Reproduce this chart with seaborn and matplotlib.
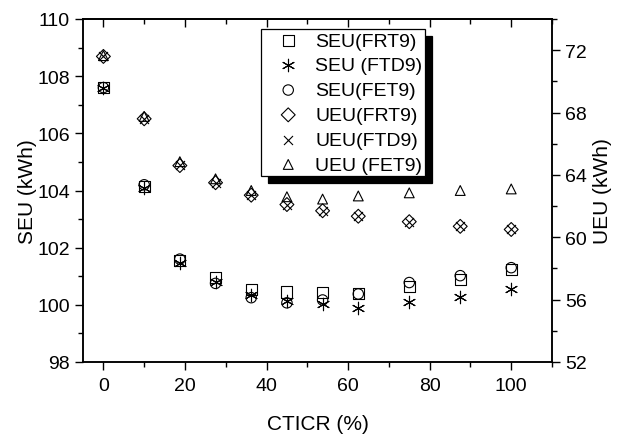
import numpy as np
import pandas as pd
import seaborn as sns
import matplotlib
matplotlib.use("Agg")
import matplotlib.pyplot as plt
from matplotlib.ticker import MultipleLocator

# ---- data ----
cticr = [0, 10, 18.75, 27.5, 36.25, 45, 53.75, 62.5, 75, 87.5, 100]

seu_frt9 = [107.6, 104.15, 101.55, 100.95, 100.55, 100.45, 100.43, 100.40, 100.65, 100.90, 101.25]
seu_ftd9 = [107.6, 104.10, 101.45, 100.80, 100.35, 100.12, 100.02, 99.90, 100.10, 100.27, 100.55]
seu_fet9 = [107.6, 104.20, 101.60, 100.75, 100.25, 100.07, 100.17, 100.38, 100.78, 101.02, 101.30]

ueu_frt9 = [71.6, 67.6, 64.6, 63.5, 62.7, 62.1, 61.7, 61.35, 61.0, 60.7, 60.5]
ueu_ftd9 = [71.6, 67.6, 64.65, 63.5, 62.7, 62.1, 61.7, 61.35, 61.0, 60.7, 60.5]
ueu_fet9 = [71.65, 67.75, 64.85, 63.75, 63.0, 62.6, 62.45, 62.65, 62.85, 63.0, 63.1]

labels_seu = ["SEU(FRT9)", "SEU (FTD9)", "SEU(FET9)"]
labels_ueu = ["UEU(FRT9)", "UEU(FTD9)", "UEU (FET9)"]

sns.set_style("ticks")
plt.rcParams['font.family'] = ['Liberation Sans', 'DejaVu Sans']
plt.rcParams['text.color'] = 'black'
plt.rcParams['axes.labelcolor'] = 'black'
plt.rcParams['xtick.color'] = 'black'
plt.rcParams['ytick.color'] = 'black'

fig = plt.figure(figsize=(6.21, 4.39), dpi=100)
ax = fig.add_axes([83/621, 1-363/439, (552-83)/621, (363-20)/439])
ax2 = ax.twinx()

asterisk = (6, 2, 0)
lw = 0.8

def draw(axis, y, marker, s, label, filled=True):
    df = pd.DataFrame({"x": cticr, "y": y})
    if filled:
        sns.scatterplot(data=df, x="x", y="y", ax=axis, marker=marker, s=s,
                        color="black", facecolor="none", edgecolor="black",
                        linewidth=lw, label=label, zorder=3)
    else:
        sns.scatterplot(data=df, x="x", y="y", ax=axis, marker=marker, s=s,
                        color="black", edgecolor=None, linewidth=lw,
                        label=label, zorder=3)

draw(ax, seu_frt9, "s", 64, labels_seu[0])
draw(ax, seu_ftd9, asterisk, 80, labels_seu[1], filled=False)
draw(ax, seu_fet9, "o", 56, labels_seu[2])
draw(ax2, ueu_frt9, "D", 50, labels_ueu[0])
draw(ax2, ueu_ftd9, "x", 42, labels_ueu[1], filled=False)
draw(ax2, ueu_fet9, "^", 50, labels_ueu[2])

ax.set_xlim(-5, 110)
ax.set_ylim(98, 110)
ax2.set_ylim(52, 74)

ax.xaxis.set_major_locator(MultipleLocator(20))
ax.xaxis.set_minor_locator(MultipleLocator(10))
ax.yaxis.set_major_locator(MultipleLocator(2))
ax.yaxis.set_minor_locator(MultipleLocator(1))
ax2.yaxis.set_major_locator(MultipleLocator(4))
ax2.yaxis.set_minor_locator(MultipleLocator(2))

for a in (ax, ax2):
    for sp in a.spines.values():
        sp.set_visible(True)
        sp.set_linewidth(1.1)
        sp.set_color("black")

ax.tick_params(axis="both", which="major", direction="out", length=6, width=1.0,
               labelsize=14, colors="black", top=False)
ax.tick_params(axis="x", which="major", pad=5)
ax.tick_params(axis="both", which="minor", direction="out", length=3.5, width=1.0,
               top=False)
ax.tick_params(axis="y", right=False)
ax2.tick_params(axis="y", which="major", direction="out", length=6, width=1.0,
                labelsize=14, colors="black")
ax2.tick_params(axis="y", which="minor", direction="out", length=3.5, width=1.0)

# top inward ticks
sec = ax.secondary_xaxis("top")
sec.xaxis.set_major_locator(MultipleLocator(20))
sec.xaxis.set_minor_locator(MultipleLocator(10))
sec.tick_params(which="major", direction="in", length=6, width=1.0, labeltop=False)
sec.tick_params(which="minor", direction="in", length=3.5, width=1.0)
sec.spines["top"].set_linewidth(1.1)

ax.set_xlabel("CTICR (%)", fontsize=15, labelpad=14)
ax.set_ylabel("SEU (kWh)", fontsize=15, labelpad=0)
ax2.set_ylabel("UEU (kWh)", fontsize=15, labelpad=4)

h1, l1 = ax.get_legend_handles_labels()
h2, l2 = ax2.get_legend_handles_labels()
if ax.get_legend():
    ax.get_legend().remove()
if ax2.get_legend():
    ax2.get_legend().remove()
leg = ax2.legend(h1 + h2, l1 + l2, loc="upper left",
                 bbox_to_anchor=(261/621, 1-30/439), bbox_transform=fig.transFigure,
                 borderaxespad=0, fontsize=14, frameon=True, fancybox=False,
                 framealpha=1, edgecolor="black", borderpad=0.15, labelspacing=0.37,
                 handlelength=2.5, handletextpad=0.15,
                 shadow={"ox": 4.7, "oy": -4.7, "color": "black", "alpha": 1})
leg.get_frame().set_linewidth(0.9)

fig.savefig("out.png", dpi=100)
